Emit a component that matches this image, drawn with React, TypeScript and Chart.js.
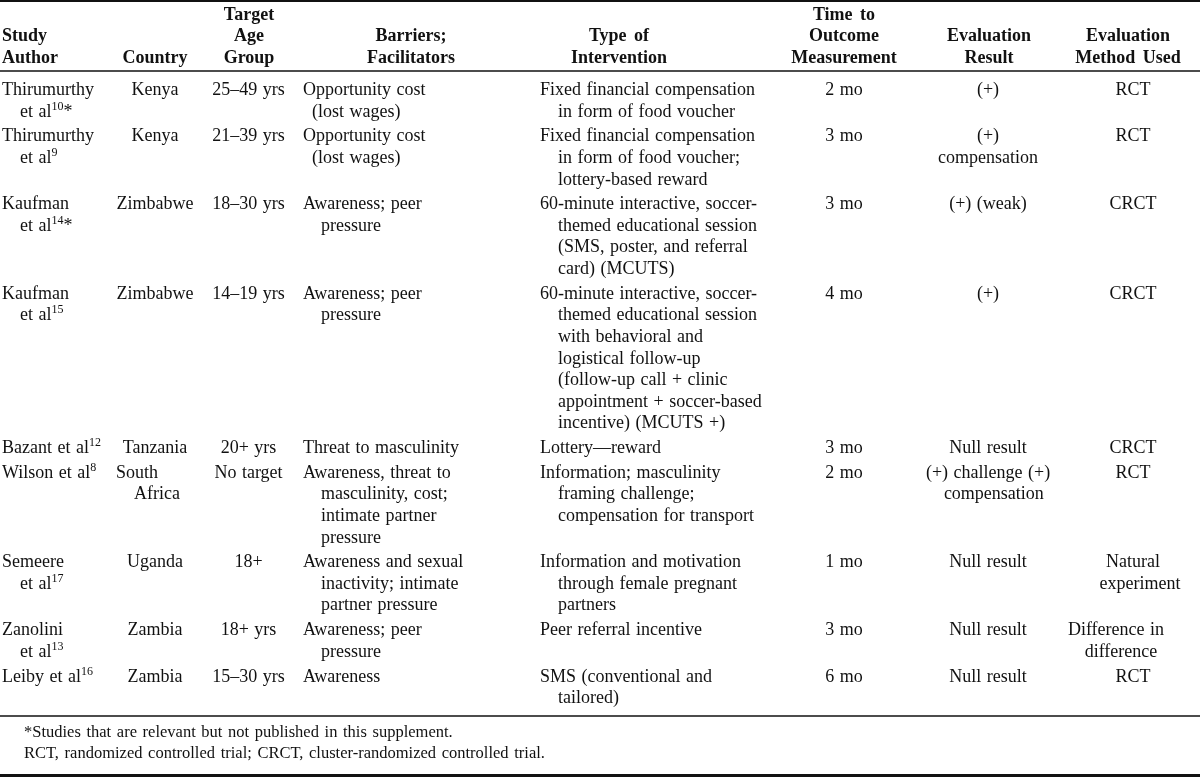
import React, { useEffect, useRef } from "react";
import { Chart, registerables } from "chart.js";

Chart.register(...registerables);

const W = 1200;
const H = 778;

// ---- table content ----
const headerCells: string[][] = [
  ["Study", "Author"],
  ["Country"],
  ["Target", "Age", "Group"],
  ["Barriers;", "Facilitators"],
  ["Type of", "Intervention"],
  ["Time to", "Outcome", "Measurement"],
  ["Evaluation", "Result"],
  ["Evaluation", "Method Used"],
];

const studyAuthors: string[][] = [
  ["Thirumurthy", "et al^{10}*"],
  ["Thirumurthy", "et al^{9}"],
  ["Kaufman", "et al^{14}*"],
  ["Kaufman", "et al^{15}"],
  ["Bazant et al^{12}"],
  ["Wilson et al^{8}"],
  ["Semeere", "et al^{17}"],
  ["Zanolini", "et al^{13}"],
  ["Leiby et al^{16}"],
];

const countries: string[][] = [
  ["Kenya"], ["Kenya"], ["Zimbabwe"], ["Zimbabwe"], ["Tanzania"],
  ["South", "Africa"], ["Uganda"], ["Zambia"], ["Zambia"],
];

const ageGroups: string[][] = [
  ["25–49 yrs"], ["21–39 yrs"], ["18–30 yrs"], ["14–19 yrs"], ["20+ yrs"],
  ["No target"], ["18+"], ["18+ yrs"], ["15–30 yrs"],
];

const barriers: string[][] = [
  ["Opportunity cost", "(lost wages)"],
  ["Opportunity cost", "(lost wages)"],
  ["Awareness; peer", "pressure"],
  ["Awareness; peer", "pressure"],
  ["Threat to masculinity"],
  ["Awareness, threat to", "masculinity, cost;", "intimate partner", "pressure"],
  ["Awareness and sexual", "inactivity; intimate", "partner pressure"],
  ["Awareness; peer", "pressure"],
  ["Awareness"],
];

const interventions: string[][] = [
  ["Fixed financial compensation", "in form of food voucher"],
  ["Fixed financial compensation", "in form of food voucher;", "lottery-based reward"],
  ["60-minute interactive, soccer-", "themed educational session", "(SMS, poster, and referral", "card) (MCUTS)"],
  ["60-minute interactive, soccer-", "themed educational session", "with behavioral and", "logistical follow-up", "(follow-up call + clinic", "appointment + soccer-based", "incentive) (MCUTS +)"],
  ["Lottery—reward"],
  ["Information; masculinity", "framing challenge;", "compensation for transport"],
  ["Information and motivation", "through female pregnant", "partners"],
  ["Peer referral incentive"],
  ["SMS (conventional and", "tailored)"],
];

const timeToOutcome: string[][] = [
  ["2 mo"], ["3 mo"], ["3 mo"], ["4 mo"], ["3 mo"], ["2 mo"], ["1 mo"], ["3 mo"], ["6 mo"],
];

const evalResults: string[][] = [
  ["(+)"], ["(+)", "compensation"], ["(+) (weak)"], ["(+)"], ["Null result"],
  ["(+) challenge (+)", "compensation"], ["Null result"], ["Null result"], ["Null result"],
];

const evalMethods: string[][] = [
  ["RCT"], ["RCT"], ["CRCT"], ["CRCT"], ["CRCT"], ["RCT"],
  ["Natural", "experiment"], ["Difference in", "difference"], ["RCT"],
];

const footnotes: string[] = [
  "*Studies that are relevant but not published in this supplement.",
  "RCT, randomized controlled trial; CRCT, cluster-randomized controlled trial.",
];

// ---- layout ----
// cells laid out as a centred block with a hanging indent [row, column]
const hangingCells: [number, number][] = [[5, 1], [5, 6]];
// small typesetting nudges, "row,col,line" -> dx (px)
const lineNudges: Record<string, number> = {
  "0,3,1": -9,
  "1,3,1": -9,
  "5,1,0": -7,
  "5,1,1": -7,
  "6,7,1": 7,
  "7,7,0": -17,
  "7,7,1": -12,
};

const columns = [studyAuthors, countries, ageGroups, barriers, interventions, timeToOutcome, evalResults, evalMethods];
const colAnchor = [2, 155, 248.5, 303, 540, 844, 988, 1133];
const colAlign = ["left", "center", "center", "left", "left", "center", "center", "center"];
const headerAnchor = [2, 155, 249, 411, 619, 844, 989, 1128];
const INDENT = 18;
const LINE_H = 21.55;
const ROW_GAP = 3.3;
const FIRST_BASELINE = 95;
const HEADER_LAST_BASELINE = 63;
const FONT_FAMILY = '"Liberation Serif", "Times New Roman", serif';
const BODY_SIZE = 18;
const SUP_SIZE = 12;
const FOOT_SIZE = 16.5;
const BODY_WS = 1;
const HEAD_WS = 3;
const FOOT_WS = 1.5;
const INK = "#111";

type Seg = { t: string; sup: boolean };
function parseRich(s: string): Seg[] {
  const out: Seg[] = [];
  const re = /\^\{([^}]*)\}/g;
  let last = 0;
  let m: RegExpExecArray | null;
  while ((m = re.exec(s))) {
    if (m.index > last) out.push({ t: s.slice(last, m.index), sup: false });
    out.push({ t: m[1], sup: true });
    last = m.index + m[0].length;
  }
  if (last < s.length) out.push({ t: s.slice(last), sup: false });
  return out;
}

function segWidth(ctx: CanvasRenderingContext2D, t: string, ws: number) {
  const spaces = (t.match(/ /g) || []).length;
  return ctx.measureText(t).width + spaces * ws;
}

function richWidth(ctx: CanvasRenderingContext2D, s: string, weight: string, size: number, ws: number) {
  let w = 0;
  for (const seg of parseRich(s)) {
    ctx.font = `${weight} ${seg.sup ? SUP_SIZE : size}px ${FONT_FAMILY}`;
    w += segWidth(ctx, seg.t, ws);
  }
  return w;
}

function drawRich(ctx: CanvasRenderingContext2D, s: string, x: number, y: number, weight: string, size: number, ws: number) {
  let cx = x;
  ctx.textAlign = "left";
  ctx.textBaseline = "alphabetic";
  for (const seg of parseRich(s)) {
    ctx.font = `${weight} ${seg.sup ? SUP_SIZE : size}px ${FONT_FAMILY}`;
    const yy = seg.sup ? y - 7 : y;
    const words = seg.t.split(" ");
    const spaceW = ctx.measureText(" ").width + ws;
    words.forEach((wd, i) => {
      if (wd.length) ctx.fillText(wd, cx, yy);
      cx += ctx.measureText(wd).width;
      if (i < words.length - 1) cx += spaceW;
    });
  }
}

const tablePlugin = {
  id: "tableDraw",
  afterDraw(chart: any) {
    const ctx: CanvasRenderingContext2D = chart.ctx;
    const sx = chart.scales.x;
    const sy = chart.scales.y;
    const px = (v: number) => sx.getPixelForValue(v);
    const py = (v: number) => sy.getPixelForValue(v);
    ctx.save();
    ctx.fillStyle = INK;
    ctx.strokeStyle = INK;

    const rule = (y: number, w: number) => {
      ctx.lineWidth = w;
      ctx.beginPath();
      ctx.moveTo(px(0), py(y));
      ctx.lineTo(px(W), py(y));
      ctx.stroke();
    };

    // header
    headerCells.forEach((lines, c) => {
      lines.forEach((ln, i) => {
        const y = HEADER_LAST_BASELINE - (lines.length - 1 - i) * LINE_H;
        const w = richWidth(ctx, ln, "bold", BODY_SIZE, HEAD_WS);
        const x = c === 0 ? headerAnchor[c] : headerAnchor[c] - w / 2;
        drawRich(ctx, ln, px(x), py(y), "bold", BODY_SIZE, HEAD_WS);
      });
    });

    // body rows
    const nRows = studyAuthors.length;
    let base = FIRST_BASELINE;
    for (let r = 0; r < nRows; r++) {
      let nLines = 1;
      columns.forEach((col, c) => {
        const lines = col[r];
        nLines = Math.max(nLines, lines.length);
        const hang = hangingCells.some(([hr, hc]) => hr === r && hc === c);
        let blockX = 0;
        if (hang) {
          let bw = 0;
          lines.forEach((ln, i) => {
            bw = Math.max(bw, richWidth(ctx, ln, "normal", BODY_SIZE, BODY_WS) + (i > 0 ? INDENT : 0));
          });
          blockX = colAnchor[c] - bw / 2;
        }
        lines.forEach((ln, i) => {
          const y = base + i * LINE_H;
          const w = richWidth(ctx, ln, "normal", BODY_SIZE, BODY_WS);
          let x: number;
          if (hang) x = blockX + (i > 0 ? INDENT : 0);
          else if (colAlign[c] === "left") x = colAnchor[c] + (i > 0 ? INDENT : 0);
          else x = colAnchor[c] - w / 2;
          x += lineNudges[`${r},${c},${i}`] || 0;
          drawRich(ctx, ln, px(x), py(y), "normal", BODY_SIZE, BODY_WS);
        });
      });
      base = base + (nLines - 1) * LINE_H + LINE_H + ROW_GAP;
    }

    // rules
    rule(1, 2);
    rule(71, 1.5);
    rule(716, 1.5);
    rule(775.5, 3);

    // footnotes
    footnotes.forEach((f, i) => {
      drawRich(ctx, f, px(24), py(737 + i * 21), "normal", FOOT_SIZE, FOOT_WS);
    });
    ctx.restore();
  },
};

export default function App() {
  const ref = useRef<HTMLCanvasElement | null>(null);
  useEffect(() => {
    document.body.style.margin = "0";
    const canvas = ref.current;
    if (!canvas) return;
    const chart = new Chart(canvas, {
      type: "scatter",
      data: { datasets: [{ data: [], pointRadius: 0 }] },
      options: {
        animation: false,
        responsive: false,
        devicePixelRatio: 1,
        layout: { padding: 0 },
        plugins: { legend: { display: false }, tooltip: { enabled: false }, title: { display: false } },
        scales: {
          x: { type: "linear", min: 0, max: W, display: false },
          y: { type: "linear", min: 0, max: H, reverse: true, display: false },
        },
      },
      plugins: [tablePlugin],
    });
    return () => chart.destroy();
  }, []);
  return (
    <div style={{ position: "absolute", left: 0, top: 0, width: W, height: H, background: "#fff" }}>
      <canvas ref={ref} width={W} height={H} style={{ width: W, height: H, display: "block" }} />
    </div>
  );
}
